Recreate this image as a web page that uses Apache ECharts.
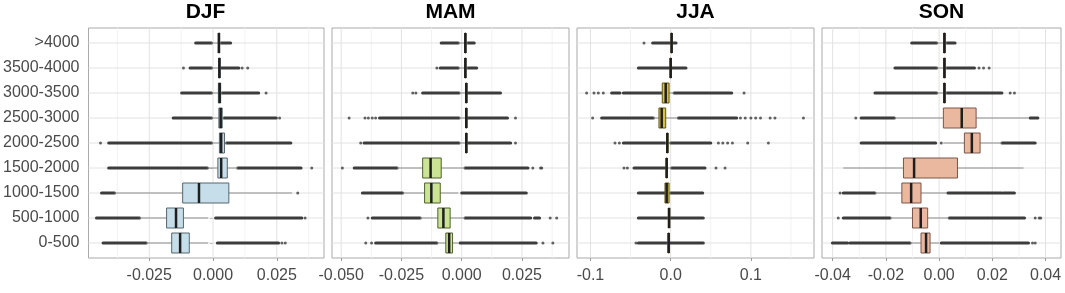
<!DOCTYPE html>
<html>
<head>
<meta charset="utf-8">
<script src="https://cdn.jsdelivr.net/npm/echarts@6/dist/echarts.min.js"></script>
<style>
  html, body { margin: 0; padding: 0; background: #fff; }
  #container { width: 1065px; height: 293px; }
</style>
</head>
<body>
<div id="container"></div>
<script>
var dom = document.getElementById('container');
var myChart = echarts.init(dom, null, { renderer: 'canvas' });

// elevation bands, bottom to top
var categories = ['0-500', '500-1000', '1000-1500', '1500-2000', '2000-2500', '2500-3000', '3000-3500', '3500-4000', '>4000'];
var seasons = ['DJF', 'MAM', 'JJA', 'SON'];

// box stats per band (same order as categories): [whisker low, Q1, median, Q3, whisker high]
var djfBoxes = [
  [-0.0262, -0.0162, -0.0129, -0.0093, -0.0019],
  [-0.0288, -0.0182, -0.0145, -0.0116, -0.0019],
  [-0.0386, -0.0119, -0.0055, 0.0062, 0.0310],
  [-0.0022, 0.0019, 0.0032, 0.0056, 0.0097],
  [-0.0006, 0.0025, 0.0032, 0.0045, 0.0053],
  [-0.0006, 0.0023, 0.0030, 0.0036, 0.0043],
  [-0.0006, 0.0021, 0.0026, 0.0030, 0.0036],
  [-0.0006, 0.0022, 0.0025, 0.0028, 0.0032],
  [-0.0006, 0.0021, 0.0023, 0.0026, 0.0032]
];
var mamBoxes = [
  [-0.0103, -0.0066, -0.0052, -0.0038, -0.0016],
  [-0.0172, -0.0099, -0.0076, -0.0048, 0.0014],
  [-0.0245, -0.0154, -0.0126, -0.0089, -0.0014],
  [-0.0268, -0.0162, -0.0129, -0.0085, 0.0014],
  [-0.0011, 0.0016, 0.0019, 0.0022, 0.0027],
  [-0.0011, 0.0016, 0.0019, 0.0022, 0.0027],
  [-0.0011, 0.0016, 0.0019, 0.0022, 0.0027],
  [-0.0014, 0.0013, 0.0015, 0.0018, 0.0025],
  [-0.0014, 0.0013, 0.0015, 0.0018, 0.0025]
];
var jjaBoxes = [
  [-0.0050, -0.0033, -0.0025, -0.0017, -0.0008],
  [-0.0042, -0.0029, -0.0020, -0.0012, 0.0000],
  [-0.0071, -0.0071, -0.0050, -0.0020, 0.0000],
  [-0.0071, -0.0058, -0.0050, -0.0042, 0.0012],
  [-0.0071, -0.0050, -0.0042, -0.0033, 0.0000],
  [-0.0216, -0.0146, -0.0112, -0.0062, 0.0096],
  [-0.0112, -0.0105, -0.0062, -0.0020, 0.0042],
  [-0.0017, -0.0008, 0.0000, 0.0006, 0.0012],
  [-0.0008, 0.0004, 0.0012, 0.0018, 0.0033]
];
var sonBoxes = [
  [-0.0109, -0.0068, -0.0049, -0.0034, 0.0000],
  [-0.0184, -0.0100, -0.0069, -0.0043, 0.0038],
  [-0.0241, -0.0140, -0.0105, -0.0068, 0.0029],
  [-0.0360, -0.0134, -0.0094, 0.0069, 0.0317],
  [0.0016, 0.0095, 0.0123, 0.0154, 0.0236],
  [-0.0168, 0.0016, 0.0085, 0.0139, 0.0336],
  [-0.0009, 0.0017, 0.0020, 0.0023, 0.0029],
  [-0.0009, 0.0017, 0.0020, 0.0023, 0.0029],
  [-0.0009, 0.0017, 0.0020, 0.0023, 0.0029]
];

// dense outlier runs: [band, from, to]
var djfRuns = [
  ['0-500', -0.0431, -0.0262], ['0-500', 0.0017, 0.0257],
  ['500-1000', -0.0457, -0.0288], ['500-1000', 0.0010, 0.0348],
  ['1000-1500', -0.0437, -0.0386],
  ['1500-2000', -0.0409, -0.0022], ['1500-2000', 0.0097, 0.0345],
  ['2000-2500', -0.0409, -0.0006], ['2000-2500', 0.0053, 0.0305],
  ['2500-3000', -0.0156, -0.0006], ['2500-3000', 0.0043, 0.0248],
  ['3000-3500', -0.0123, -0.0006], ['3000-3500', 0.0036, 0.0179],
  ['3500-4000', -0.0090, -0.0006], ['3500-4000', 0.0032, 0.0101],
  ['>4000', -0.0068, -0.0006], ['>4000', 0.0032, 0.0069]
];
var mamRuns = [
  ['0-500', -0.0357, -0.0103], ['0-500', -0.0007, 0.0309],
  ['500-1000', -0.0371, -0.0172], ['500-1000', 0.0014, 0.0286], ['500-1000', 0.0302, 0.0323],
  ['1000-1500', -0.0412, -0.0245], ['1000-1500', 0.0000, 0.0268],
  ['1500-2000', -0.0446, -0.0268], ['1500-2000', 0.0014, 0.0275],
  ['2000-2500', -0.0405, -0.0011], ['2000-2500', 0.0027, 0.0203],
  ['2500-3000', -0.0341, -0.0011], ['2500-3000', 0.0027, 0.0190],
  ['3000-3500', -0.0162, -0.0011], ['3000-3500', 0.0027, 0.0161],
  ['3500-4000', -0.0089, -0.0014], ['3500-4000', 0.0025, 0.0062],
  ['>4000', -0.0085, -0.0014], ['>4000', 0.0025, 0.0052]
];
var jjaRuns = [
  ['0-500', -0.0403, -0.0050], ['0-500', -0.0008, 0.0407],
  ['500-1000', -0.0403, -0.0042], ['500-1000', 0.0000, 0.0407],
  ['1000-1500', -0.0403, -0.0071], ['1000-1500', 0.0000, 0.0399],
  ['1500-2000', -0.0457, -0.0071], ['1500-2000', 0.0012, 0.0428],
  ['2000-2500', -0.0590, -0.0071], ['2000-2500', 0.0000, 0.0500],
  ['2500-3000', -0.0861, -0.0216], ['2500-3000', 0.0096, 0.0823],
  ['3000-3500', -0.0736, -0.0632], ['3000-3500', -0.0590, -0.0112], ['3000-3500', 0.0042, 0.0761],
  ['3500-4000', -0.0403, -0.0017], ['3500-4000', 0.0012, 0.0191],
  ['>4000', -0.0225, -0.0008], ['>4000', 0.0033, 0.0067]
];
var sonRuns = [
  ['0-500', -0.0401, -0.0344], ['0-500', -0.0335, -0.0109], ['0-500', 0.0008, 0.0336],
  ['500-1000', -0.0360, -0.0184], ['500-1000', 0.0038, 0.0321],
  ['1000-1500', -0.0360, -0.0241], ['1000-1500', 0.0033, 0.0236], ['1000-1500', 0.0242, 0.0283],
  ['2000-2500', -0.0293, -0.0013], ['2000-2500', 0.0236, 0.0361],
  ['2500-3000', -0.0293, -0.0168], ['2500-3000', 0.0342, 0.0371],
  ['3000-3500', -0.0241, -0.0009], ['3000-3500', 0.0029, 0.0236],
  ['3500-4000', -0.0166, -0.0009], ['3500-4000', 0.0029, 0.0133],
  ['>4000', -0.0103, -0.0009], ['>4000', 0.0029, 0.0060]
];

// isolated outliers: [band, value]
var djfDots = [
  ['0-500', 0.0270], ['0-500', 0.0283], ['500-1000', 0.0361], ['1000-1500', 0.0332],
  ['1500-2000', 0.0387], ['2000-2500', -0.0441], ['2500-3000', 0.0261], ['3000-3500', 0.0208],
  ['3500-4000', -0.0116], ['3500-4000', 0.0114], ['3500-4000', 0.0136]
];
var mamDots = [
  ['0-500', -0.0398], ['0-500', -0.0374], ['0-500', 0.0337], ['0-500', 0.0378],
  ['500-1000', -0.0389], ['500-1000', 0.0367], ['500-1000', 0.0394],
  ['1500-2000', -0.0495], ['1500-2000', 0.0295], ['1500-2000', 0.0327], ['1500-2000', 0.0332],
  ['2000-2500', -0.0419], ['2000-2500', 0.0223],
  ['2500-3000', -0.0467], ['2500-3000', -0.0401], ['2500-3000', -0.0387], ['2500-3000', -0.0371],
  ['2500-3000', -0.0357], ['2500-3000', 0.0223],
  ['3000-3500', -0.0203], ['3000-3500', -0.0190], ['3500-4000', -0.0103]
];
var jjaDots = [
  ['0-500', -0.0432],
  ['1500-2000', -0.0582], ['1500-2000', -0.0540], ['1500-2000', 0.0565], ['1500-2000', 0.0678],
  ['2000-2500', -0.0694], ['2000-2500', -0.0640], ['2000-2500', 0.0595], ['2000-2500', 0.0650],
  ['2000-2500', 0.0710], ['2000-2500', 0.0770], ['2000-2500', 0.0960], ['2000-2500', 0.1218],
  ['2500-3000', -0.0973], ['2500-3000', 0.0870], ['2500-3000', 0.0930], ['2500-3000', 0.1000],
  ['2500-3000', 0.1060], ['2500-3000', 0.1120], ['2500-3000', 0.1240], ['2500-3000', 0.1300],
  ['2500-3000', 0.1655],
  ['3000-3500', -0.1048], ['3000-3500', -0.0956], ['3000-3500', -0.0902], ['3000-3500', -0.0840],
  ['3000-3500', 0.0915],
  ['>4000', -0.0333]
];
var sonDots = [
  ['0-500', 0.0351], ['0-500', 0.0361],
  ['500-1000', -0.0379], ['500-1000', 0.0361], ['500-1000', 0.0376], ['500-1000', 0.0382],
  ['1000-1500', -0.0372], ['2000-2500', 0.0008], ['2500-3000', -0.0313],
  ['3000-3500', 0.0267], ['3000-3500', 0.0283],
  ['3500-4000', 0.0150], ['3500-4000', 0.0167], ['3500-4000', 0.0188]
];

// x axes: extent and tick labels
var djfRange = [-0.0488, 0.0435];
var mamRange = [-0.0538, 0.0445];
var jjaRange = [-0.1168, 0.1787];
var sonRange = [-0.0440, 0.0458];
var djfTicks = ['-0.025', '0.000', '0.025'];
var mamTicks = ['-0.050', '-0.025', '0.000', '0.025'];
var jjaTicks = ['-0.1', '0.0', '0.1'];
var sonTicks = ['-0.04', '-0.02', '0.00', '0.02', '0.04'];

var boxes = [djfBoxes, mamBoxes, jjaBoxes, sonBoxes];
var runs = [djfRuns, mamRuns, jjaRuns, sonRuns];
var dots = [djfDots, mamDots, jjaDots, sonDots];
var ranges = [djfRange, mamRange, jjaRange, sonRange];
var tickLabels = [djfTicks, mamTicks, jjaTicks, sonTicks];

var fills = ['#c6dee9', '#cbe494', '#d9c33c', '#eab79f'];
var strokes = ['#56666e', '#4f602e', '#625612', '#7b5648'];

var panelLeft = [87, 332, 577, 822];
var panelWidth = [237, 237, 237, 239];
var panelTop = 28;
var panelHeight = 230;
var yMin = 0.4, yMax = 9.6;

function bandY(name) {
  return categories.indexOf(name) + 1;
}

function gridLinesItem(range, major) {
  return function (params, api) {
    var children = [];
    var minor = [];
    for (var k = 0; k < major.length - 1; k++) minor.push((major[k] + major[k + 1]) / 2);
    var step = major[1] - major[0];
    minor.push(major[0] - step / 2, major[major.length - 1] + step / 2);
    minor.forEach(function (v) {
      if (v <= range[0] || v >= range[1]) return;
      var a = api.coord([v, yMin]), b = api.coord([v, yMax]);
      children.push({ type: 'line', shape: { x1: a[0], y1: a[1], x2: b[0], y2: b[1] }, style: { stroke: '#f2f2f2', lineWidth: 1 } });
    });
    major.forEach(function (v) {
      if (v <= range[0] || v >= range[1]) return;
      var a = api.coord([v, yMin]), b = api.coord([v, yMax]);
      children.push({ type: 'line', shape: { x1: a[0], y1: a[1], x2: b[0], y2: b[1] }, style: { stroke: '#e2e2e2', lineWidth: 1 } });
    });
    for (var r = 1; r <= categories.length; r++) {
      var c = api.coord([range[0], r]), d = api.coord([range[1], r]);
      children.push({ type: 'line', shape: { x1: c[0], y1: c[1], x2: d[0], y2: d[1] }, style: { stroke: '#e2e2e2', lineWidth: 1 } });
    }
    return { type: 'group', children: children };
  };
}

function runItem(params, api) {
  var a = api.coord([api.value(1), api.value(0)]);
  var b = api.coord([api.value(2), api.value(0)]);
  return {
    type: 'line',
    shape: { x1: a[0], y1: a[1], x2: b[0], y2: b[1] },
    style: { stroke: '#3c3c3c', lineWidth: 3, lineCap: 'round' }
  };
}

function boxItem(fill, stroke) {
  return function (params, api) {
    var y = api.value(0);
    var lo = api.coord([api.value(1), y]);
    var q1 = api.coord([api.value(2), y]);
    var md = api.coord([api.value(3), y]);
    var q3 = api.coord([api.value(4), y]);
    var hi = api.coord([api.value(5), y]);
    var h = api.size([0, 0.8])[1];
    return {
      type: 'group',
      children: [
        { type: 'line', shape: { x1: lo[0], y1: lo[1], x2: hi[0], y2: hi[1] }, style: { stroke: '#8e8e8e', lineWidth: 1 } },
        { type: 'rect', shape: { x: q1[0], y: q1[1] - h / 2, width: Math.max(q3[0] - q1[0], 1), height: h }, style: { fill: fill, stroke: stroke, lineWidth: 1 } },
        { type: 'line', shape: { x1: md[0], y1: md[1] - h / 2, x2: md[0], y2: md[1] + h / 2 }, style: { stroke: '#1f1f1f', lineWidth: 2.5 } }
      ]
    };
  };
}

var grids = [], xAxes = [], yAxes = [], titles = [], series = [];

for (var i = 0; i < seasons.length; i++) {
  var tickVals = tickLabels[i].map(Number);

  grids.push({
    left: panelLeft[i], top: panelTop, width: panelWidth[i], height: panelHeight,
    show: true, borderColor: '#a9a9a9', borderWidth: 1, backgroundColor: '#fff'
  });

  titles.push({
    text: seasons[i],
    left: panelLeft[i] + panelWidth[i] / 2,
    top: 2,
    padding: 0,
    textAlign: 'center',
    textStyle: { fontFamily: 'Liberation Sans', fontWeight: 'bold', fontSize: 21, color: '#000' }
  });

  xAxes.push({
    type: 'value', gridIndex: i, min: ranges[i][0], max: ranges[i][1],
    axisLine: { show: false },
    splitLine: { show: false },
    axisTick: { show: true, customValues: tickVals, length: 3, lineStyle: { color: '#9a9a9a' } },
    axisLabel: {
      customValues: tickVals,
      formatter: (function (labels) {
        return function (v) {
          for (var k = 0; k < labels.length; k++) {
            if (Math.abs(Number(labels[k]) - v) < 1e-9) return labels[k];
          }
          return '';
        };
      })(tickLabels[i]),
      fontFamily: 'Liberation Sans', fontSize: 16, color: '#4a4a4a', margin: 10
    }
  });

  yAxes.push({
    type: 'value', gridIndex: i, min: yMin, max: yMax,
    axisLine: { show: false },
    splitLine: { show: false },
    axisTick: { show: i === 0, customValues: [1, 2, 3, 4, 5, 6, 7, 8, 9], length: 3, lineStyle: { color: '#9a9a9a' } },
    axisLabel: {
      show: i === 0,
      customValues: [1, 2, 3, 4, 5, 6, 7, 8, 9],
      formatter: function (v) { return categories[Math.round(v) - 1] || ''; },
      fontFamily: 'Liberation Sans', fontSize: 16, color: '#4a4a4a', margin: 9
    }
  });

  series.push({
    type: 'custom', xAxisIndex: i, yAxisIndex: i, silent: true, z: 1,
    renderItem: gridLinesItem(ranges[i], tickVals),
    data: [[0, 5]]
  });

  series.push({
    type: 'custom', xAxisIndex: i, yAxisIndex: i, silent: true, z: 2,
    renderItem: runItem,
    encode: { x: [1, 2], y: 0 },
    data: runs[i].map(function (r) { return [bandY(r[0]), r[1], r[2]]; })
  });

  series.push({
    type: 'scatter', xAxisIndex: i, yAxisIndex: i, silent: true, z: 2,
    symbolSize: 3,
    itemStyle: { color: '#3c3c3c' },
    data: dots[i].map(function (d) { return [d[1], bandY(d[0])]; })
  });

  series.push({
    type: 'custom', xAxisIndex: i, yAxisIndex: i, silent: true, z: 3,
    renderItem: boxItem(fills[i], strokes[i]),
    encode: { x: [1, 2, 3, 4, 5], y: 0 },
    data: boxes[i].map(function (b, k) { return [k + 1].concat(b); })
  });
}

var option = {
  backgroundColor: '#fff',
  animation: false,
  title: titles,
  grid: grids,
  xAxis: xAxes,
  yAxis: yAxes,
  series: series
};

myChart.setOption(option);

window.addEventListener('resize', myChart.resize);
</script>
</body>
</html>
